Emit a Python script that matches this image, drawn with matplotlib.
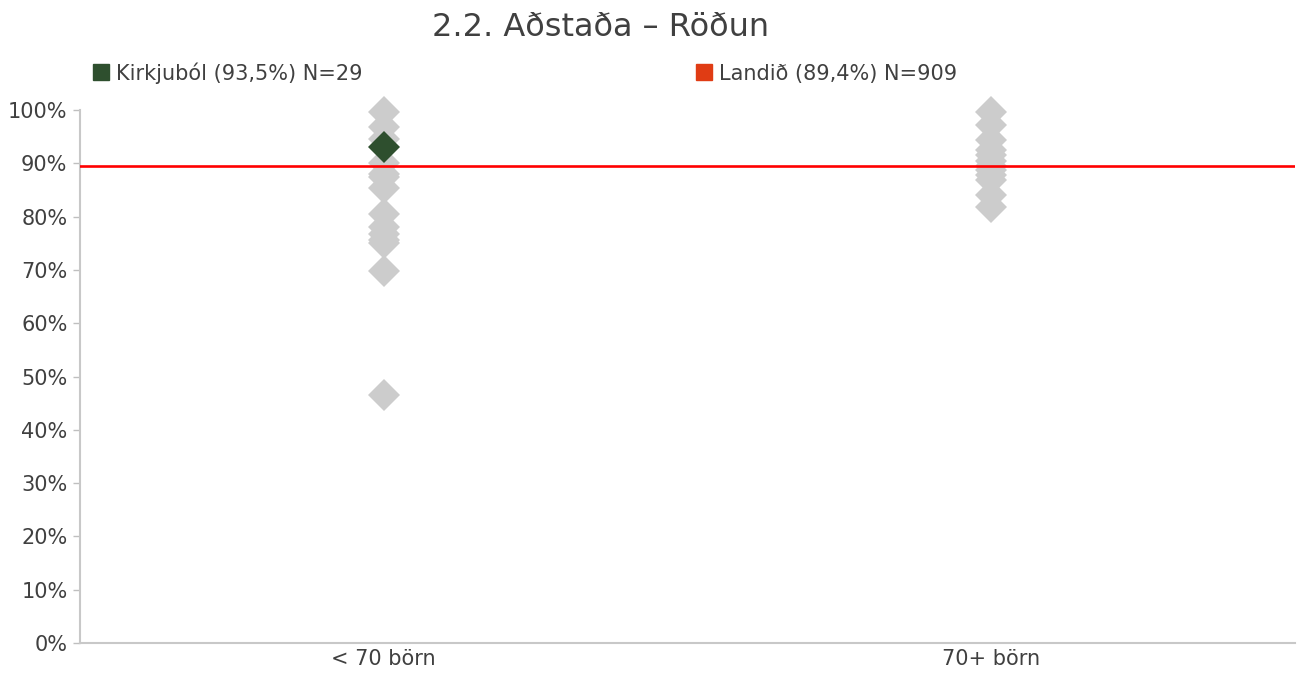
import numpy as np
import matplotlib.pyplot as plt
from matplotlib.lines import Line2D

plt.rcParams['font.family'] = ['DejaVu Sans']

# categories and values (fraction)
categories = ["< 70 börn", "70+ börn"]
small_vals = [0.997, 0.969, 0.945, 0.90, 0.88, 0.875, 0.853, 0.805, 0.78, 0.768, 0.756, 0.75, 0.697, 0.465]
large_vals = [0.997, 0.972, 0.943, 0.925, 0.915, 0.905, 0.895, 0.888, 0.878, 0.868, 0.84, 0.818]
highlight_cat = 0
highlight_val = 0.931
national_avg = 0.894

grey = '#cccccc'
dark = '#2e4f2e'
red = '#ff0000'
txt = '#404040'

fig = plt.figure(figsize=(13.06, 6.73), dpi=100)
ax = fig.add_axes([80/1306, 30/673, 1215/1306, 533/673])

ms = 16
ax.plot(np.full(len(small_vals), 0), small_vals, 'D', color=grey, markersize=ms, markeredgewidth=0, zorder=2, clip_on=False)
ax.plot(np.full(len(large_vals), 1), large_vals, 'D', color=grey, markersize=ms, markeredgewidth=0, zorder=2, clip_on=False)
ax.axhline(national_avg, color=red, linewidth=1.9, zorder=3)
ax.plot([highlight_cat], [highlight_val], 'D', color=dark, markersize=ms, markeredgewidth=0, zorder=4)

ax.set_xlim(-0.5, 1.5)
ax.set_ylim(0, 1)
ax.set_yticks(np.arange(0, 1.01, 0.1))
ax.set_yticklabels([f"{int(round(v*100))}%" for v in np.arange(0, 1.01, 0.1)], fontsize=15, color=txt)
ax.set_xticks([0, 1])
ax.set_xticklabels(categories, fontsize=15, color=txt)
ax.tick_params(axis='x', length=0, pad=4)
ax.tick_params(axis='y', length=5, width=1, color='#bfbfbf', pad=4)
for s in ['top', 'right']:
    ax.spines[s].set_visible(False)
for s in ['left', 'bottom']:
    ax.spines[s].set_color('#c8c8c8')
    ax.spines[s].set_linewidth(1.5)

fig.text(601/1306, 1 - 28/673, "2.2. Aðstaða – Röðun", ha='center', va='center', fontsize=23, color=txt)

handles = [Line2D([], [], marker='s', linestyle='', color=dark, markersize=12),
           Line2D([], [], marker='s', linestyle='', color='#e03c14', markersize=12)]
labels = ["Kirkjuból (93,5%) N=29", "Landið (89,4%) N=909"]
leg = fig.legend(handles, labels, loc='center left', bbox_to_anchor=(0.062, 1 - 73/673), ncol=2,
                 frameon=False, fontsize=15, handletextpad=0.2, columnspacing=15.8,
                 handlelength=1.1, borderaxespad=0)
for t in leg.get_texts():
    t.set_color(txt)

fig.savefig('out.png', dpi=100)
